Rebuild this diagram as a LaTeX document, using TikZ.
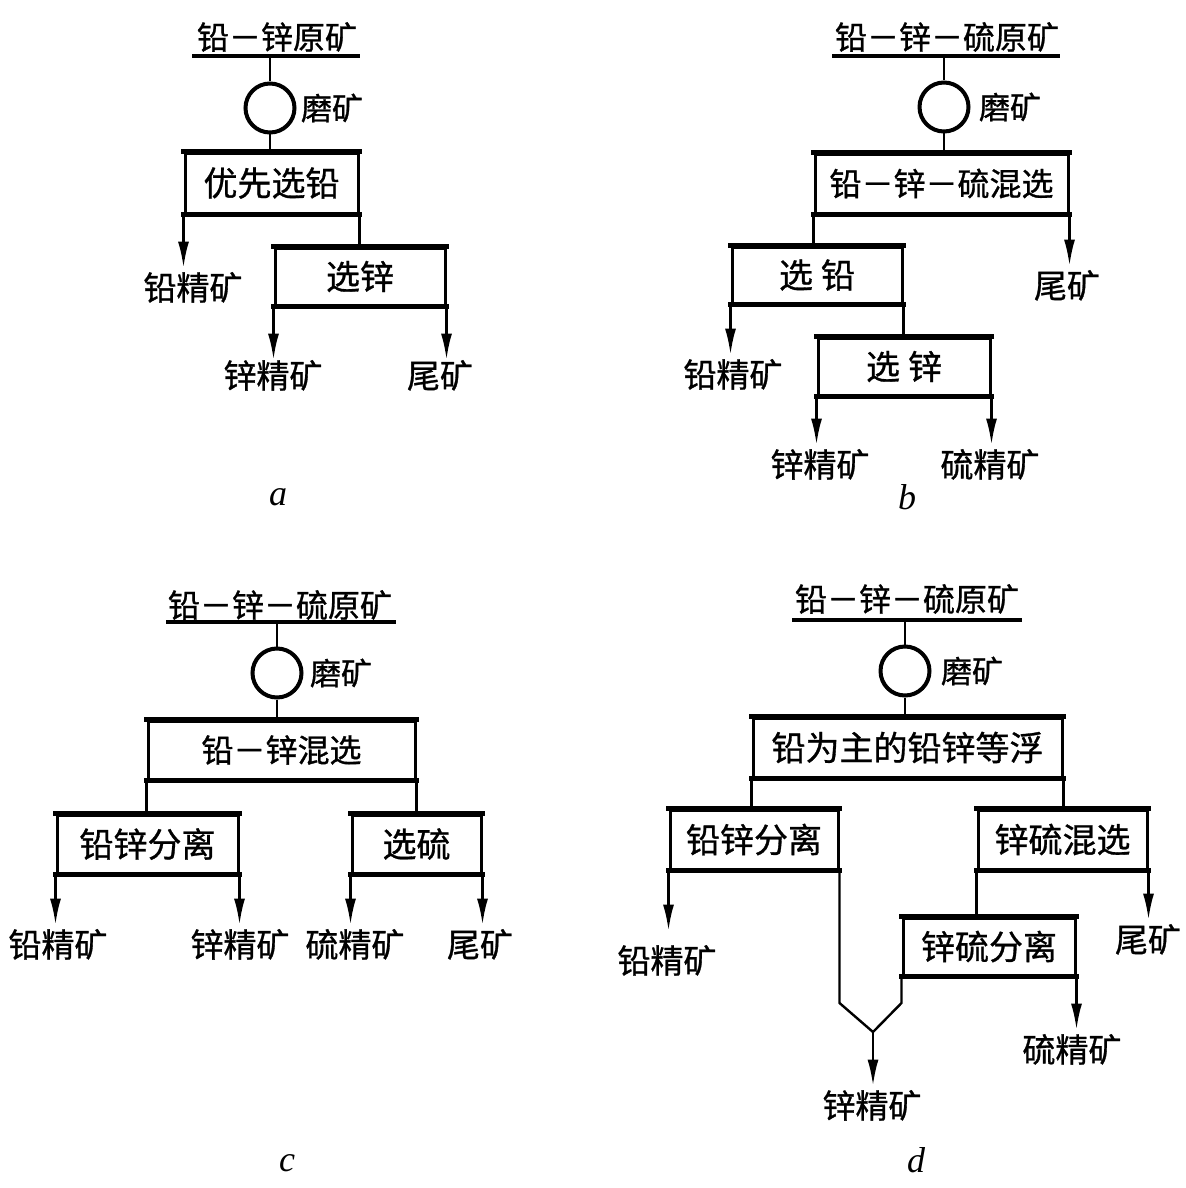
\documentclass[tikz,border=0pt]{standalone}
\usepackage{fontspec}
\usetikzlibrary{arrows.meta}
\newfontfamily\cjk[FakeBold=0.9]{Noto Sans CJK SC}
\newfontfamily\ltr{Liberation Serif}
\begin{document}
\begin{tikzpicture}[x=0.5pt,y=-0.5pt,
  box/.style={draw,line width=1.5pt,inner sep=0pt,font=\cjk\fontsize{17}{19}\selectfont},
  boxs/.style={box,font=\cjk\fontsize{16}{18}\selectfont},
  edge/.style={line width=2.4pt,line cap=rect},
  mill/.style={circle,draw,line width=2pt,minimum size=24.5pt,inner sep=0pt},
  conn/.style={line width=1.2pt},
  arr/.style={conn,-{Latex[length=13pt,width=5.5pt]}},
  lbl/.style={font=\cjk\fontsize{16.5}{18}\selectfont,text height=12pt,text depth=2pt,inner ysep=4pt,inner xsep=0pt},
  ttl/.style={font=\cjk\fontsize{16}{18}\selectfont,inner sep=0pt},
  mlb/.style={font=\cjk\fontsize{15.5}{17}\selectfont,inner sep=0pt},
  ul/.style={line width=2.2pt},
  tag/.style={font=\ltr\itshape\fontsize{18}{20}\selectfont,inner sep=0pt}]
\fill[white] (0,0) rectangle (1185,1188);
\useasboundingbox (0,0) rectangle (1185,1188);

% ---------------- panel a
\node[ttl] (a-t) at (277,37) {铅－锌原矿};
\coordinate (a-ul) at (192,56); \coordinate (a-ur) at (360,56); \coordinate (a-u) at (270,56);
\draw[ul] (a-ul) -- (a-ur);
\node[mill] (a-m) at (270,108) {};
\node[mlb] (a-ml) at (332,108) {磨矿};
\node[box,minimum width=86.5pt,minimum height=30pt] (A1) at (271.5,183) {优先选铅};
\node[box,minimum width=85pt,minimum height=28.5pt] (A2) at (360,276.5) {选锌};
\node[lbl] (a-pb) at (193,290) {铅精矿};
\node[lbl,inner ysep=2pt] (a-zn) at (273,378) {锌精矿};
\node[lbl,inner ysep=2pt] (a-ta) at (440,378) {尾矿};
\node[tag] (a-tag) at (278,497) {a};
\draw[conn] (a-u) -- (a-m.north);
\draw[conn] (a-m.south) -- (a-m.south |- A1.north);
\draw[arr] (A1.south west) -- (A1.south west |- a-pb.north);
\draw[conn] (A1.south east) -- (A1.south east |- A2.north);
\draw[arr] (A2.south west) -- (A2.south west |- a-zn.north);
\draw[arr] (A2.south east) -- (A2.south east |- a-ta.north);

% ---------------- panel b
\node[ttl] (b-t) at (947,37) {铅－锌－硫原矿};
\coordinate (b-ul) at (832,56); \coordinate (b-ur) at (1060,56); \coordinate (b-u) at (944,56);
\draw[ul] (b-ul) -- (b-ur);
\node[mill] (b-m) at (944,107) {};
\node[mlb] (b-ml) at (1010,107) {磨矿};
\node[boxs,minimum width=126.5pt,minimum height=29.5pt] (B1) at (941.5,183.5) {铅－锌－硫混选};
\node[box,minimum width=85pt,minimum height=28pt] (B2) at (817,275) {选\hspace{4pt}铅};
\node[box,minimum width=86pt,minimum height=28.5pt] (B3) at (904,366.5) {选\hspace{4pt}锌};
\node[lbl] (b-ta) at (1067,288) {尾矿};
\node[lbl] (b-pb) at (733,377) {铅精矿};
\node[lbl] (b-zn) at (820,467) {锌精矿};
\node[lbl] (b-s) at (990,467) {硫精矿};
\node[tag] (b-tag) at (907,497) {b};
\draw[conn] (b-u) -- (b-m.north);
\draw[conn] (b-m.south) -- (b-m.south |- B1.north);
\draw[conn] (B1.south west) -- (B1.south west |- B2.north);
\draw[arr] (B1.south east) -- (B1.south east |- b-ta.north);
\draw[arr] (B2.south west) -- (B2.south west |- b-pb.north);
\draw[conn] (B2.south east) -- (B2.south east |- B3.north);
\draw[arr] (B3.south west) -- (B3.south west |- b-zn.north);
\draw[arr] (B3.south east) -- (B3.south east |- b-s.north);

% ---------------- panel c
\node[ttl] (c-t) at (280,605) {铅－锌－硫原矿};
\coordinate (c-ul) at (166,622); \coordinate (c-ur) at (396,622); \coordinate (c-u) at (277,622);
\draw[ul] (c-ul) -- (c-ur);
\node[mill] (c-m) at (277,673) {};
\node[mlb] (c-ml) at (341,673) {磨矿};
\node[boxs,minimum width=133.5pt,minimum height=29pt] (C1) at (281.5,750) {铅－锌混选};
\node[box,minimum width=90.5pt,minimum height=29pt] (C2) at (147.5,844) {铅锌分离};
\node[box,minimum width=64.5pt,minimum height=29pt] (C3) at (416.5,844) {选硫};
\node[lbl] (c-pb) at (58,947) {铅精矿};
\node[lbl] (c-zn) at (240,947) {锌精矿};
\node[lbl] (c-s) at (355,947) {硫精矿};
\node[lbl] (c-ta) at (480,947) {尾矿};
\node[tag] (c-tag) at (287,1163) {c};
\draw[conn] (c-u) -- (c-m.north);
\draw[conn] (c-m.south) -- (c-m.south |- C1.north);
\draw[conn] (C1.south west) -- (C1.south west |- C2.north);
\draw[conn] (C1.south east) -- (C1.south east |- C3.north);
\draw[arr] (C2.south west) -- (C2.south west |- c-pb.north);
\draw[arr] (C2.south east) -- (C2.south east |- c-zn.north);
\draw[arr] (C3.south west) -- (C3.south west |- c-s.north);
\draw[arr] (C3.south east) -- (C3.south east |- c-ta.north);

% ---------------- panel d
\node[ttl] (d-t) at (907,599) {铅－锌－硫原矿};
\coordinate (d-ul) at (792,620); \coordinate (d-ur) at (1022,620); \coordinate (d-u) at (905,620);
\draw[ul] (d-ul) -- (d-ur);
\node[mill] (d-m) at (905,671) {};
\node[mlb] (d-ml) at (972,671) {磨矿};
\node[box,minimum width=154.5pt,minimum height=29.5pt] (D1) at (907.5,747.5) {铅为主的铅锌等浮};
\node[box,minimum width=84pt,minimum height=29.5pt] (D2) at (754,839.5) {铅锌分离};
\node[box,minimum width=84.5pt,minimum height=29.5pt] (D3) at (1062.5,839.5) {锌硫混选};
\node[box,minimum width=86pt,minimum height=28.5pt] (D4) at (989,946.5) {锌硫分离};
\node[lbl,inner ysep=9pt] (d-pb) at (667,963) {铅精矿};
\node[lbl] (d-ta) at (1148,942) {尾矿};
\node[lbl] (d-zn) at (872,1108) {锌精矿};
\node[lbl] (d-s) at (1072,1052) {硫精矿};
\node[tag] (d-tag) at (916,1160) {d};
\coordinate (d-v) at (873,1032);
\coordinate (d-k) at (0,1003);
\draw[conn] (d-u) -- (d-m.north);
\draw[conn] (d-m.south) -- (d-m.south |- D1.north);
\draw[conn] (D1.south west) -- (D1.south west |- D2.north);
\draw[conn] (D1.south east) -- (D1.south east |- D3.north);
\draw[arr] (D2.south west) -- (D2.south west |- d-pb.north);
\draw[conn] (D2.south east) -- (D2.south east |- d-k) -- (d-v);
\draw[conn] (D4.south west) -- (D4.south west |- d-k) -- (d-v);
\draw[arr] (d-v) -- (d-v |- d-zn.north);
\draw[conn] (D3.south west) -- (D3.south west |- D4.north);
\draw[arr] (D3.south east) -- (D3.south east |- d-ta.north);
\draw[arr] (D4.south east) -- (D4.south east |- d-s.north);

% heavy top and bottom edges of the boxes
\foreach \n in {A1,A2,B1,B2,B3,C1,C2,C3,D1,D2,D3,D4}{
  \draw[edge] (\n.north west) -- (\n.north east);
  \draw[edge] (\n.south west) -- (\n.south east);
}
\end{tikzpicture}
\end{document}
